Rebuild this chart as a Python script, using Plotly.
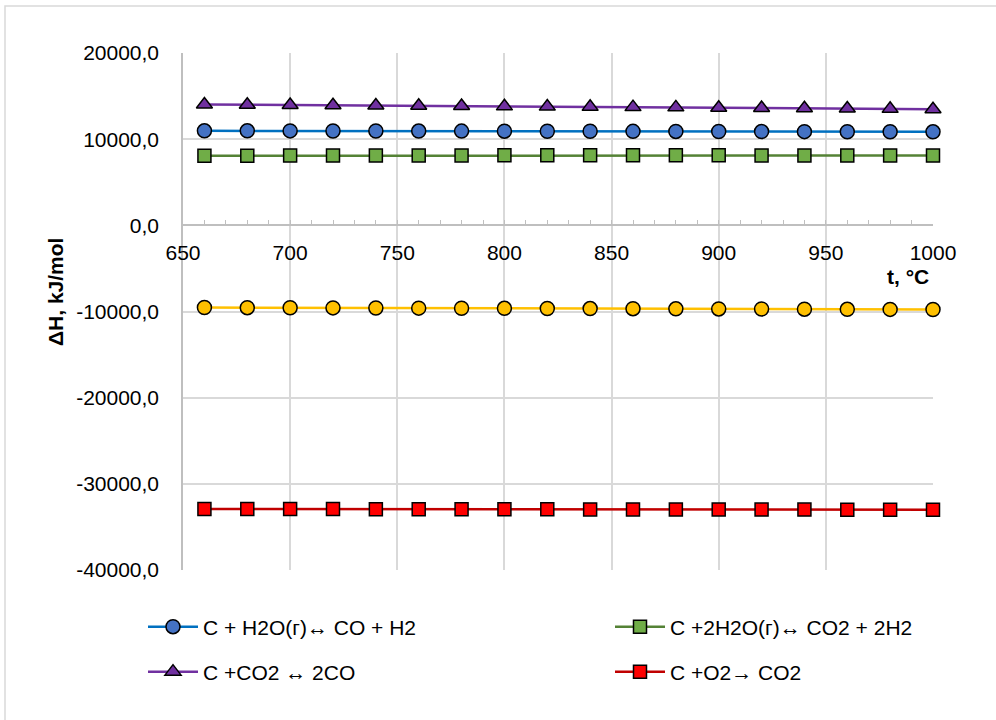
import plotly.graph_objects as go

t = [660, 680, 700, 720, 740, 760, 780, 800, 820, 840, 860, 880, 900, 920, 940, 960, 980, 1000]

h_h2o = [10970, 10965, 10960, 10950, 10945, 10940, 10935, 10930, 10920, 10915, 10905, 10900, 10890, 10880, 10875, 10865, 10860, 10850]
h_2h2o = [8080, 8085, 8090, 8095, 8100, 8110, 8115, 8120, 8120, 8125, 8125, 8120, 8120, 8115, 8110, 8105, 8100, 8095]
h_co2 = [14020, 13990, 13960, 13930, 13900, 13870, 13840, 13810, 13780, 13750, 13720, 13690, 13650, 13620, 13590, 13550, 13520, 13480]
h_o2 = [-32920, -32925, -32930, -32935, -32940, -32945, -32950, -32955, -32960, -32965, -32970, -32975, -32980, -32985, -32990, -32995, -33000, -33005]
h_extra = [-9540, -9555, -9570, -9580, -9595, -9610, -9620, -9635, -9650, -9660, -9675, -9690, -9700, -9715, -9730, -9745, -9755, -9770]

names = ["C + H2O(г)↔ CO + H2", "C +2H2O(г)↔ CO2 + 2H2", "C +CO2 ↔ 2CO", "C +O2→ CO2"]

y_tickvals = [20000, 10000, 0, -10000, -20000, -30000, -40000]
y_ticktext = ["20000,0", "10000,0", "0,0", "-10000,0", "-20000,0", "-30000,0", "-40000,0"]

FONT = "Liberation Sans, Arial, sans-serif"
FS = 21

fig = go.Figure()

def add(y, name, lc, mc, sym, size, legend=None, show=True):
    fig.add_trace(go.Scatter(
        x=t, y=y, name=name, mode="lines+markers",
        line=dict(color=lc, width=2.5),
        marker=dict(symbol=sym, size=size, color=mc, line=dict(color="black", width=1.5)),
        showlegend=show, legend=legend, cliponaxis=False,
    ))

add(h_extra, "extra", "#FFC000", "#FFC000", "circle", 14, None, False)
add(h_h2o, names[0], "#0070C0", "#4472C4", "circle", 14, "legend")
add(h_2h2o, names[1], "#548235", "#70AD47", "square", 13, "legend2")
add(h_co2, names[2], "#7030A0", "#7030A0", "triangle-up", 14, "legend3")
add(h_o2, names[3], "#C00000", "#FF0000", "square", 13, "legend4")

L, R, T, B = 183, 63, 53, 150
W, H = 996, 720
pw, ph = W - L - R, H - T - B

def px(x):
    return (x - L) / pw

def py(y):
    return (H - B - y) / ph

def leg(x, y):
    return dict(orientation="h", x=px(x), y=py(y), xanchor="left", yanchor="middle",
                font=dict(size=FS, family=FONT), bgcolor="rgba(0,0,0,0)", itemwidth=50)

fig.update_layout(
    width=W, height=H,
    margin=dict(l=L, r=R, t=T, b=B),
    paper_bgcolor="white", plot_bgcolor="white",
    font=dict(family=FONT, size=FS, color="black"),
    legend=leg(143, 627),
    legend2=leg(610, 627),
    legend3=leg(143, 672),
    legend4=leg(610, 672),
    xaxis=dict(
        range=[650, 1000], dtick=50, tick0=650,
        anchor="free", position=40000 / 60000,
        showgrid=True, gridcolor="#D9D9D9", gridwidth=1.5,
        showline=True, linecolor="#BFBFBF", linewidth=1.5,
        ticks="inside", ticklen=5, tickcolor="#BFBFBF",
        minor=dict(dtick=10, ticks="inside", ticklen=5, tickcolor="#BFBFBF", showgrid=False),
        ticklabelstandoff=9,
        tickfont=dict(size=FS, family=FONT),
        zeroline=False,
    ),
    yaxis=dict(
        range=[-40000, 20000],
        tickvals=y_tickvals, ticktext=y_ticktext,
        showgrid=True, gridcolor="#D9D9D9", gridwidth=1.5,
        showline=True, linecolor="#BFBFBF", linewidth=1.5,
        ticks="", ticklabelstandoff=18,
        tickfont=dict(size=FS, family=FONT),
        zeroline=False,
    ),
    shapes=[dict(type="rect", xref="paper", yref="paper",
                 x0=px(5), x1=px(1010), y0=py(730), y1=py(6),
                 line=dict(color="#D9D9D9", width=1.5), fillcolor="rgba(0,0,0,0)", layer="below")],
    annotations=[
        dict(text="<b>t, °C</b>", xref="paper", yref="paper", x=px(931), y=py(276),
             xanchor="right", yanchor="middle", showarrow=False, font=dict(size=FS, family=FONT)),
        dict(text="<b>ΔH, kJ/mol</b>", xref="paper", yref="paper", x=px(55), y=py(292),
             xanchor="center", yanchor="middle", textangle=-90, showarrow=False,
             font=dict(size=FS, family=FONT)),
    ],
)

fig.write_html("out.html")
